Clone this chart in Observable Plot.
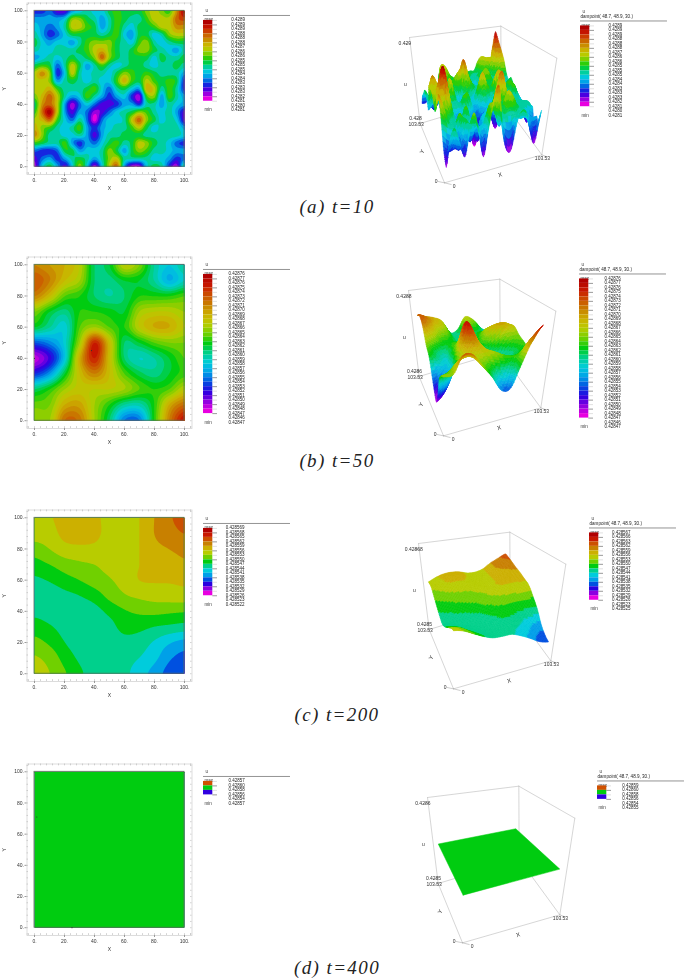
<!DOCTYPE html>
<html><head><meta charset="utf-8">
<script src="https://cdn.jsdelivr.net/npm/d3@7"></script>
<script src="https://cdn.jsdelivr.net/npm/@observablehq/plot@0.6"></script>
<style>
html,body{margin:0;background:#fff}
#page{position:relative;width:685px;height:980px;overflow:hidden}
#page svg{position:absolute;overflow:visible;background:transparent;filter:blur(.35px)}
.cap{position:absolute;font:italic 19px "Liberation Serif",serif;letter-spacing:1.4px;color:#222;white-space:nowrap;transform:translateX(-50%)}
</style></head><body><div id="page"></div>
<script>
// ---------- data: field on a regular grid, rows from Y=100 down to Y=0 ----------
// panel (a): u as the legend band it falls in (0 = min band, 17 = max band), grid every 5 units
const uA = [
[3,3,4,2,2,5,6,7,6,6,8,9,8,8,8,10,11,10,9,13,17],
[5,5,5,5,6,10,10,8,7,5,7,9,8,7,7,9,11,11,11,14,15],
[6,5,4,5,7,11,11,9,8,5,7,9,7,6,8,8,9,11,11,13,13],
[7,5,3,4,6,8,8,8,8,7,8,9,6,5,8,8,6,7,10,11,11],
[8,6,5,6,6,5,7,9,10,10,10,8,7,6,9,10,7,6,7,8,8],
[7,6,6,7,7,7,8,9,11,12,10,8,7,8,10,10,8,7,6,5,7],
[5,6,7,6,7,8,7,8,10,14,10,8,7,8,8,8,6,8,7,7,8],
[8,9,8,4,7,11,8,5,7,9,7,6,7,8,8,7,6,7,7,8,7],
[11,13,10,3,6,11,7,6,7,7,6,8,10,9,8,9,8,7,7,7,5],
[11,11,10,5,7,8,7,6,7,6,6,9,12,9,8,11,9,8,9,8,3],
[11,11,12,9,7,7,7,8,9,6,4,7,8,6,5,12,11,7,9,7,3],
[10,12,14,11,7,5,6,9,7,5,3,5,6,3,1,9,10,5,9,7,5],
[8,13,14,11,5,1,4,6,4,2,2,3,5,5,3,7,7,5,7,6,5],
[9,14,17,11,5,2,5,4,1,2,4,6,7,8,10,9,7,6,7,5,2],
[11,12,14,9,6,4,7,4,0,4,6,6,7,11,14,10,8,6,7,6,2],
[12,10,9,7,6,7,9,5,3,5,6,7,7,9,11,8,6,7,7,7,5],
[13,10,7,7,6,6,7,5,2,5,7,7,8,8,8,7,7,7,7,7,6],
[9,8,7,7,9,5,3,5,4,6,8,9,7,8,11,10,8,7,6,4,3],
[4,3,3,4,8,8,5,6,6,7,10,8,5,8,10,9,7,7,6,5,5],
[2,4,5,3,5,7,8,7,5,7,10,11,7,7,7,7,6,6,5,3,4],
[1,6,8,5,2,6,10,6,1,6,11,14,5,1,1,6,8,7,3,1,7]];
// panel (b): (u-0.428)*1e5, grid every 10 units
const uB = [
[70,69,68,66,60,61,66,64,59,57,59],
[72,70,67,65,60,59.5,61,61,59,56,58],
[70,67,63,62,60,59,60,62,62,62,63],
[64,61,59.5,62,62,61.5,61,65,66,66,65],
[61,59,57.5,63,65,63,62,66,68,68,66],
[53,54.5,57.5,65,74,67,60,61,63,64,64],
[47.5,50.5,57,68,74,67,60,58,59,61,63],
[52,55,61,67,70,67,63,60.5,59.5,61,62.5],
[60,62,65,66.5,66,66,65,63,62,63,66],
[63.5,64,68,68.5,65,62,59,58.5,62,68,71],
[65,65,71,70.5,65,60,54,54,62,70,75]];
// panel (c): u in legend steps (0 = min band, 15 = max band), grid every 10 units
const uC = [
[9.3,9.9,10.3,10.4,10.2,9.7,9.6,10,11,11.8,12.6],
[9.4,9.6,10.3,10.6,10.3,9.6,9.6,10,11,11.5,12],
[8.5,9,9.6,9.7,9.7,9.4,9.5,10,10.7,11,11.3],
[7.6,8,8.5,8.8,9,9.3,9.5,10,10.4,10.5,10.8],
[6.8,7.1,7.6,8,8.5,8.9,9.4,10,10.1,10.1,10.2],
[6.3,6.4,6.7,7,7.5,8.3,8.9,9.2,9.4,9.5,9.6],
[6.7,6.5,6.3,6.3,6.6,7.3,7.9,8.2,8.3,8.2,8.1],
[7.5,7.1,6.6,6.2,6.2,6.6,7.4,7.3,7,6.8,6.6],
[8.3,7.8,7,6.4,6.1,6.3,6.6,6.5,5.9,5.15,4.7],
[9.1,8.6,7.6,6.8,6.3,6.3,6.3,6,5.3,4.2,3.6],
[9.5,9,8.1,7.2,6.5,6.3,6.2,5.5,4.6,3.6,3.1]];
// panel (d): everything lies in the middle band
const uD = [[1.5,1.5],[1.5,1.5]];

const labelsA = ["0.4289","0.4289","0.4289","0.4288","0.4288","0.4288","0.4287","0.4286","0.4286","0.4285","0.4285","0.4285","0.4284","0.4284","0.4283","0.4283","0.4283","0.4282","0.4281","0.4280","0.4281"];
const labelsB = ["0.42876","0.42877","0.42876","0.42875","0.42874","0.42873","0.42872","0.42871","0.42870","0.42869","0.42868","0.42867","0.42866","0.42865","0.42864","0.42863","0.42862","0.42861","0.42860","0.42859","0.42858","0.42857","0.42856","0.42855","0.42854","0.42853","0.42852","0.42851","0.42850","0.42849","0.42848","0.42847","0.42846","0.42847"];
const labelsC = ["0.428569","0.428568","0.428565","0.428562","0.428559","0.428556","0.428553","0.428550","0.428547","0.428544","0.428541","0.428538","0.428535","0.428532","0.428529","0.428526","0.428523","0.428522"];
const labelsC3 = ["0.428567","0.428566","0.428563","0.428562","0.428559","0.428556","0.428553","0.428550","0.428547","0.428544","0.428541","0.428538","0.428535","0.428532","0.428529","0.428526","0.428523","0.428525"];
const labelsD = ["0.42857","0.42860","0.42858","0.42856","0.42854","0.42857"];
const labelsD3 = ["0.42859","0.42860","0.42858","0.42856","0.42854","0.42855"];
const ramp = ["#b00000","#c81800","#cc5000","#c88000","#ccb000","#b8cc00","#70d000","#00cc10","#00d08c","#00ccdc","#00a0e8","#0050e0","#2800e0","#8c00e0","#e800e0"];
const captions = ["(a) t=10","(b) t=50","(c) t=200","(d) t=400"];
const xTicks = [0,20,40,60,80,100];
const minorTicks = d3.range(-4,105,4);
const dampTitle = "dampoint( 48.7, 48.9, 30.)";

// ---------- layout ----------
const page = document.getElementById("page");
const FONT = "Liberation Sans";
function put(svg,x,y){svg.style.left=x+"px";svg.style.top=y+"px";page.appendChild(svg);}

const ctrl = (a,b,c,d,t)=>0.5*((2*b)+(-a+c)*t+(2*a-5*b+4*c-d)*t*t+(-a+3*b-3*c+d)*t*t*t);
function sampler(rows){ // smooth reading of the grid, (x,y) in 0..100
  const ny=rows.length,nx=rows[0].length;
  const lo=d3.min(rows.flat()),hi=d3.max(rows.flat());
  const at=(i,j)=>rows[ny-1-Math.max(0,Math.min(ny-1,j))][Math.max(0,Math.min(nx-1,i))];
  return (x,y)=>{
    const gx=x/100*(nx-1),gy=y/100*(ny-1);
    const i=Math.min(nx-2,Math.floor(gx)),j=Math.min(ny-2,Math.floor(gy));
    const tx=gx-i,ty=gy-j,col=[];
    for(let k=-1;k<3;k++) col.push(ctrl(at(i-1,j+k),at(i,j+k),at(i+1,j+k),at(i+2,j+k),tx));
    return Math.max(lo-.4,Math.min(hi+.4,ctrl(col[0],col[1],col[2],col[3],ty)));
  };
}

function bandColors(n){
  if(n===3) return ["#3000e0","#00cc10","#d05000"]; // low to high
  const f=d3.piecewise(d3.interpolateRgb,ramp);
  return d3.range(n).map(i=>f(1-i/(n-1)));
}

function heat(p,offY){
  const f=sampler(p.grid),N=160,vals=[];
  for(let j=0;j<N;j++)for(let i=0;i<N;i++)vals.push(f(i/(N-1)*100,j/(N-1)*100));
  const svg=Plot.plot({
    width:196.5,height:196,marginLeft:26.5,marginRight:5,marginTop:2.5,marginBottom:22,
    style:{fontFamily:FONT,fontSize:"5px",color:"#333",background:"transparent"},
    x:{domain:[-5,105],label:null},y:{domain:[-5,105],label:null},
    color:{type:"threshold",domain:p.thresholds,range:p.colors},
    marks:[
      Plot.frame({stroke:"#d4d4d4",strokeWidth:.8}),
      Plot.ruleX(minorTicks,{x:d=>d,y1:105,y2:103.8,stroke:"#aaa",strokeWidth:.5}),
      Plot.ruleX(minorTicks,{x:d=>d,y1:-5,y2:-3.8,stroke:"#aaa",strokeWidth:.5}),
      Plot.ruleY(minorTicks,{y:d=>d,x1:105,x2:104,stroke:"#aaa",strokeWidth:.5}),
      Plot.ruleY(minorTicks,{y:d=>d,x1:-5,x2:-4,stroke:"#aaa",strokeWidth:.5}),
      Plot.contour(vals,{width:N,height:N,x1:0,x2:100,y1:0,y2:100,fill:Plot.identity,thresholds:[p.low,...p.thresholds]}),
      Plot.rect([0],{x1:0,x2:100,y1:0,y2:100,stroke:"#5f6f55",strokeWidth:.8,fill:"none"}),
      Plot.axisX(xTicks,{anchor:"bottom",tickSize:2,tickPadding:2,tickFormat:d=>d+".",stroke:"#999",label:"X",labelAnchor:"center",labelArrow:"none",labelOffset:15,fontSize:5}),
      Plot.axisY(xTicks,{anchor:"left",tickSize:2,tickPadding:1,tickFormat:d=>d+".",stroke:"#999",label:"Y",labelAnchor:"center",labelArrow:"none",labelOffset:25,fontSize:5}),
      Plot.dot(p.marks||[],{x:d=>d[0],y:d=>d[1],r:.6,fill:"#333"})
    ]});
  put(svg,0,offY);
}

function legend(x,y,labels,n,labelDx,hrLen,colors,damp){
  const rowH=4.49, head=damp?3:2, rows=head+labels.length+1, w=hrLen+2;
  const bandsTop=colors.slice().reverse();
  const band=d3.range(n);
  const ticks=d3.range(n+1);
  const svg=Plot.plot({
    width:w,height:(rows+1)*rowH,margin:0,
    style:{fontFamily:FONT,fontSize:"5px",color:"#222",background:"transparent"},
    x:{domain:[0,w],range:[0,w],axis:null},
    y:{domain:[-1,rows],range:[0,(rows+1)*rowH],axis:null},
    color:{type:"identity"},
    marks:[
      Plot.text(["u"],{x:()=>2,y:()=>0,textAnchor:"start",fontSize:4.5,fill:"#333"}),
      damp?Plot.text([dampTitle],{x:()=>0,y:()=>1,textAnchor:"start",fontSize:4.6,fill:"#222"}):null,
      Plot.ruleY([head-1],{x1:0,x2:hrLen,stroke:"#888",strokeWidth:.9}),
      Plot.text(["max"],{x:()=>1,y:()=>head,textAnchor:"start",fontSize:4.5,fill:"#333"}),
      Plot.rect(band,{x1:0,x2:9.3,y1:i=>head+.1+i*1,y2:i=>head+.1+i+1,fill:i=>bandsTop[i]}),
      Plot.ruleY(ticks,{y:i=>head+.1+i,x1:9.3,x2:14,stroke:i=>i%2?"#555":"#ccc",strokeWidth:.6}),
      Plot.text(["min"],{x:()=>1,y:()=>head+labels.length-1,textAnchor:"start",fontSize:4.5,fill:"#333"}),
      Plot.text(labels,{x:()=>labelDx,y:(d,i)=>head+i,textAnchor:"start",fontSize:4.5,fill:"#222"})
    ].filter(Boolean)});
  put(svg,x,y-2.25);
}

// box corners of the 3D view, in view units relative to the top-left back corner
const BOX={Yt:[0,0],Bt:[274,-34],Xt:[442,62],X:[397,352],Y:[32,258],O:[105,436],B:[275,185]};
const SURF={b:[[112,428],[386,349],[44,261],[271,193]],t:[[101,141],[409,64],[19,3],[258,-18]]};
const KV=1/3;
function project(xn,yn,f){
  const bl=(c,k)=>c[0][k]*(1-xn)*(1-yn)+c[1][k]*xn*(1-yn)+c[2][k]*(1-xn)*yn+c[3][k]*xn*yn;
  return [ (bl(SURF.b,0)*(1-f)+bl(SURF.t,0)*f), (bl(SURF.b,1)*(1-f)+bl(SURF.t,1)*f) ];
}
function view3d(p,ox,oy){
  const N=p.quads,f=sampler(p.grid),quads=[];
  const z=v=>(v-p.z[0])/(p.z[1]-p.z[0]);
  let id=0;
  for(let j=N-1;j>=0;j--)for(let i=N-1;i>=0;i--){
    const u=f((i+.5)/N*100,(j+.5)/N*100);
    for(const [a,b] of [[0,0],[1,0],[1,1],[0,1],[0,0]]){
      const xn=(i+a)/N,yn=(j+b)/N,q=project(xn,yn,z(f(xn*100,yn*100)));
      quads.push({id,u,px:q[0],py:q[1]});
    }
    id++;
  }
  const e=(a,b,id)=>[{id,p:BOX[a]},{id,p:BOX[b]}];
  const edges=[["Yt","Bt"],["Bt","Xt"],["Xt","X"],["X","O"],["O","Y"],["Y","Yt"],["Bt","B"],["B","Y"],["B","X"]].flatMap((d,i)=>e(d[0],d[1],i));
  const tk=[[[-12,18],[3,18]],[[20,243],[32,243]],[[22,262],[33,259]],[[86,432],[105,436]],[[105,436],[125,441]],[[397,352],[412,358]]].flatMap((s,i)=>[{id:i,p:s[0]},{id:i,p:s[1]}]);
  const txt=[
    [p.zTop,-14,18,"end"],[p.zBot,18,244,"end"],["103.53",20,262,"end"],["0",80,432,"end"],["0",134,447,"middle"],["103.53",399,362,"start"],
    ["u",-12,140,"middle"]];
  const xd=[-75,480],yd=[-45,470];
  const svg=Plot.plot({
    width:(xd[1]-xd[0])*KV,height:(yd[1]-yd[0])*KV,margin:0,
    style:{fontFamily:FONT,fontSize:"5px",color:"#333",background:"transparent"},
    x:{domain:xd,axis:null},y:{domain:yd,reverse:true,axis:null},
    color:{type:"threshold",domain:p.thresholds,range:p.colors},
    marks:[
      Plot.line(edges,{x:d=>d.p[0],y:d=>d.p[1],z:"id",stroke:"#c4c4c4",strokeWidth:.7}),
      Plot.line(tk,{x:d=>d.p[0],y:d=>d.p[1],z:"id",stroke:"#999",strokeWidth:.5}),
      Plot.line(quads,{x:"px",y:"py",z:"id",fill:"u",stroke:"u",strokeWidth:.5}),
      Plot.text(txt,{x:d=>d[1],y:d=>d[2],text:d=>d[0],textAnchor:d=>d[3],fontSize:5,fill:"#333"}),
      Plot.text(["Y"],{x:()=>38,y:()=>342,fontSize:6,rotate:-62,fill:"#333"}),
      Plot.text(["X"],{x:()=>272,y:()=>412,fontSize:6,rotate:-16,fill:"#333"})
    ]});
  put(svg,ox+xd[0]*KV,oy+yd[0]*KV);
}

const mk=(grid,n,low,extra)=>Object.assign({grid,colors:bandColors(n),low,thresholds:d3.range(1,n).map(i=>low+i)},extra);
const pa=mk(uA.map(r=>r.map(v=>v+.5)),18,0,{z:[-1,17.5],quads:100,zTop:"0.429",zBot:"0.428"});
pa.low=-5;
const pb=mk(uB,31,46,{z:[43.7,80],quads:70,zTop:"0.4288",zBot:"0.4286",marks:[[38,45],[0,40]]});
pb.low=30;
const pc=mk(uC,15,0,{z:[0,16.4],quads:60,zTop:"0.42868",zBot:"0.4285"});
pc.low=-5;
const pd=mk(uD,3,0,{z:[-1.7,5.1],quads:1,zTop:"0.4286",zBot:"0.4285",marks:[[1.5,71],[25,0]]});
pd.low=-5;

heat(pa,0);heat(pb,253.7);heat(pc,507.4);heat(pd,760.7);
legend(203,8.7,labelsA,18,27.7,87,pa.colors,false);
legend(203,262.7,labelsB,31,25,87,pb.colors,false);
legend(203,516.3,labelsC,15,22.3,87,pc.colors,false);
legend(203,769.7,labelsD,3,25,87,pd.colors,false);

view3d(pa,409.3,37.3);view3d(pb,408.3,290);view3d(pc,418.3,543.3);view3d(pd,426.7,796.7);
legend(580,9,labelsA,18,28,87,pa.colors,true);
legend(579,262,labelsB,31,25,87,pb.colors,true);
legend(589.3,516,labelsC3,15,22.4,87,pc.colors,true);
legend(597.3,769.7,labelsD3,3,24.7,87,pd.colors,true);

[[337,207],[337,461],[337,715],[337,968]].forEach((c,i)=>{
  const d=document.createElement("div");d.className="cap";d.textContent=captions[i];
  d.style.left=c[0]+"px";d.style.top=(c[1]-11)+"px";page.appendChild(d);
});
</script></body></html>
